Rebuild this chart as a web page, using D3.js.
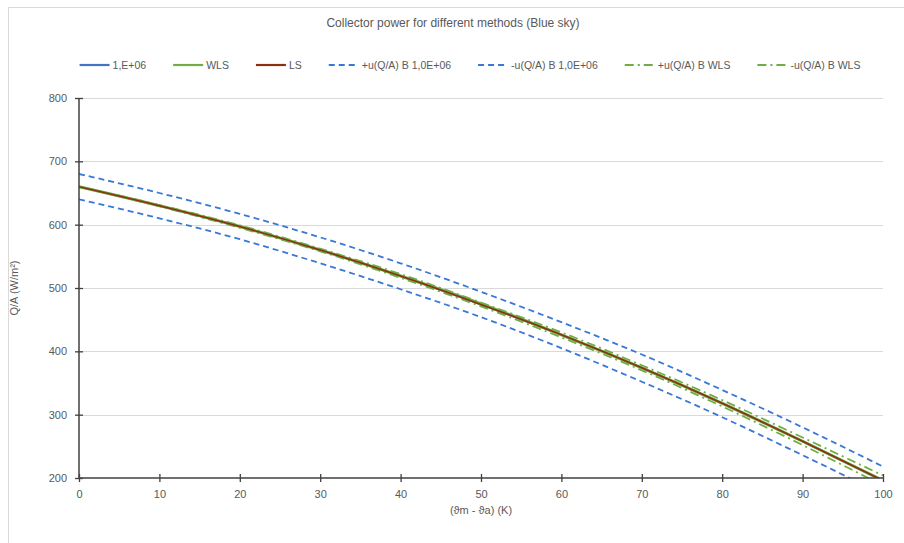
<!DOCTYPE html>
<html>
<head>
<meta charset="utf-8">
<script src="https://cdn.jsdelivr.net/npm/d3@7"></script>
<style>
  body { margin: 0; background: #fff; }
  text { font-family: "Liberation Sans", Arial, sans-serif; fill: #595959; }
</style>
</head>
<body>
<svg id="chart" width="904" height="543"></svg>
<script>
// temperature difference (K)
const dT = [0, 10, 20, 30, 40, 50, 60, 70, 80, 90, 100];

// collector power Q/A (W/m²)
const fitE6 = [660, 630, 597, 560, 519, 474, 426, 374, 318, 258, 196];
const fitWLS = [660, 630, 597, 560, 519, 475, 426, 374, 318, 258, 196];
const fitLS = [660, 630, 597, 560, 519, 474, 426, 374, 318, 258, 196];
const upE6 = [680, 650, 617, 580, 539, 494, 446, 395, 339, 280, 218];
const loE6 = [640, 610, 577, 539, 498, 454, 405, 352, 296, 236, 174];
const upWLS = [660, 631, 599, 562, 522, 477, 430, 378, 323, 264, 204];
const loWLS = [660, 629, 595, 558, 516, 471, 422, 370, 313, 252, 188];

const xTicks = [0, 10, 20, 30, 40, 50, 60, 70, 80, 90, 100];
const yTicks = [200, 300, 400, 500, 600, 700, 800];

const series = [
  { name: "1,E+06", values: fitE6, color: "#4472c4", width: 2, dash: null },
  { name: "WLS", values: fitWLS, color: "#70ad47", width: 3, dash: null },
  { name: "LS", values: fitLS, color: "#8b3010", width: 1.6, dash: null },
  { name: "+u(Q/A) B 1,0E+06", values: upE6, color: "#3a78d6", width: 1.8, dash: "6,4" },
  { name: "-u(Q/A) B 1,0E+06", values: loE6, color: "#3a78d6", width: 1.8, dash: "6,4" },
  { name: "+u(Q/A) B WLS", values: upWLS, color: "#70ad47", width: 1.8, dash: "9,4,2,4" },
  { name: "-u(Q/A) B WLS", values: loWLS, color: "#70ad47", width: 1.8, dash: "9,4,2,4" }
];

const width = 904, height = 543;
const margin = { top: 98, right: 21, bottom: 65, left: 79 };

const svg = d3.select("#chart");

// outer chart border
svg.append("rect")
  .attr("x", 8.5).attr("y", 7.5)
  .attr("width", 1000).attr("height", 1000)
  .attr("fill", "none").attr("stroke", "#d9d9d9");

const x = d3.scaleLinear()
  .domain([0, 100])
  .range([margin.left, width - margin.right]);

const y = d3.scaleLinear()
  .domain([200, 800])
  .range([height - margin.bottom, margin.top]);

// gridlines
svg.append("g")
  .selectAll("line")
  .data(yTicks.filter(d => d > 200))
  .enter().append("line")
    .attr("x1", x(0)).attr("x2", x(100))
    .attr("y1", d => Math.round(y(d)) + 0.5)
    .attr("y2", d => Math.round(y(d)) + 0.5)
    .attr("stroke", "#d9d9d9");

// lines, clipped to the plot area
svg.append("clipPath").attr("id", "plot")
  .append("rect")
    .attr("x", x(0)).attr("y", y(800))
    .attr("width", x(100) - x(0)).attr("height", y(200) - y(800));

const line = d3.line()
  .x((d, i) => x(dT[i]))
  .y(d => y(d))
  .curve(d3.curveMonotoneX);

const drawOrder = [3, 4, 5, 6, 0, 1, 2];
svg.append("g")
  .attr("clip-path", "url(#plot)")
  .selectAll("path")
  .data(drawOrder.map(i => series[i]))
  .enter().append("path")
    .attr("d", d => line(d.values))
    .attr("fill", "none")
    .attr("stroke", d => d.color)
    .attr("stroke-width", d => d.width)
    .attr("stroke-dasharray", d => d.dash);

// axes
const xAxis = g => g
  .attr("transform", `translate(0,${y(200)})`)
  .call(d3.axisBottom(x).tickValues(xTicks).tickSize(4).tickPadding(8))
  .call(g => g.select(".domain").remove())
  .call(g => g.selectAll(".tick line").attr("y1", -4).attr("stroke", "#404040").attr("stroke-width", 1.3))
  .call(g => g.selectAll(".tick text").attr("font-size", 11).attr("fill", "#595959"))
  .call(g => g.append("line")
    .attr("x1", x(0)).attr("x2", x(100))
    .attr("stroke", "#404040").attr("stroke-width", 1.5));

const yAxis = g => g
  .attr("transform", `translate(${x(0)},0)`)
  .call(d3.axisLeft(y).tickValues(yTicks).tickSize(4).tickPadding(8))
  .call(g => g.select(".domain").remove())
  .call(g => g.selectAll(".tick line").attr("x1", 4).attr("stroke", "#404040").attr("stroke-width", 1.3))
  .call(g => g.selectAll(".tick text").attr("font-size", 11).attr("fill", "#595959"))
  .call(g => g.append("line")
    .attr("y1", y(200)).attr("y2", y(800))
    .attr("stroke", "#404040").attr("stroke-width", 1.5));

svg.append("g").call(xAxis);
svg.append("g").call(yAxis);
svg.selectAll(".tick text").attr("font-family", "Liberation Sans, Arial, sans-serif");

// title and axis titles
svg.append("text")
  .attr("x", 453).attr("y", 27)
  .attr("text-anchor", "middle")
  .attr("font-size", 12)
  .text("Collector power for different methods (Blue sky)");

svg.append("text")
  .attr("x", 481).attr("y", 514)
  .attr("text-anchor", "middle")
  .attr("font-size", 11)
  .text("(ϑm - ϑa) (K)");

svg.append("text")
  .attr("transform", `translate(18,${(y(200) + y(800)) / 2}) rotate(-90)`)
  .attr("text-anchor", "middle")
  .attr("font-size", 11)
  .text("Q/A (W/m²)");

// legend
const legend = svg.append("g");
let lx = 0;
series.forEach(s => {
  const item = legend.append("g").attr("transform", `translate(${lx},0)`);
  item.append("line")
    .attr("x1", 0).attr("x2", 30)
    .attr("stroke", s.color)
    .attr("stroke-width", s.dash ? 2 : 2.2)
    .attr("stroke-dasharray", s.dash);
  const t = item.append("text")
    .attr("x", 33).attr("y", 4)
    .attr("font-size", 10.5)
    .text(s.name);
  lx += 33 + t.node().getComputedTextLength() + 27;
});
legend.attr("transform", `translate(${470 - (lx - 27) / 2},65)`);
</script>
</body>
</html>
